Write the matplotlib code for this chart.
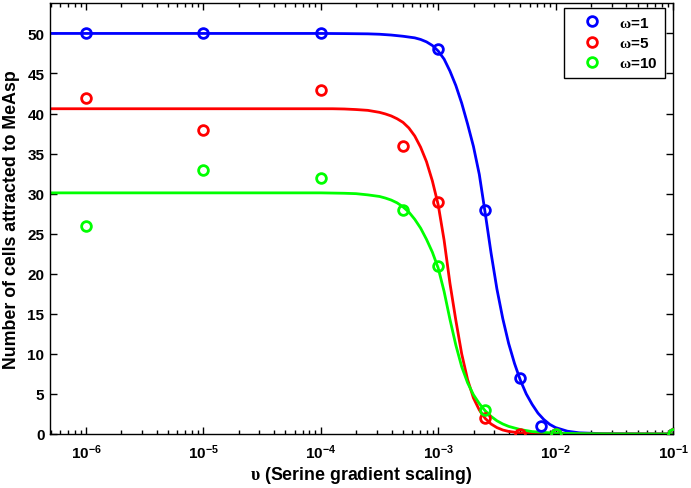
import numpy as np
import matplotlib
matplotlib.use("Agg")
import matplotlib.pyplot as plt

plt.rcParams["font.family"] = ["Liberation Sans", "DejaVu Sans"]
plt.rcParams["font.weight"] = "bold"
plt.rcParams["font.size"] = 11
plt.rcParams["mathtext.fontset"] = "custom"
plt.rcParams["mathtext.rm"] = "Liberation Sans:bold"
plt.rcParams["mathtext.bf"] = "Liberation Sans:bold"
plt.rcParams["mathtext.it"] = "Liberation Serif"

# measured points
blue_x = [1e-6, 1e-5, 1e-4, 1e-3, 2.5e-3, 5e-3, 7.5e-3, 1e-2, 1e-1]
blue_y = [50, 50, 50, 48, 28, 7, 1, 0, 0]
red_x = [1e-6, 1e-5, 1e-4, 5e-4, 1e-3, 2.5e-3, 5e-3, 1e-2, 1e-1]
red_y = [42, 38, 43, 36, 29, 2, 0, 0, 0]
green_x = [1e-6, 1e-5, 1e-4, 5e-4, 1e-3, 2.5e-3, 1e-2, 1e-1]
green_y = [26, 33, 32, 28, 21, 3, 0, 0]

# fitted curves (log10 of x, y)
blue_fit_logx = [-6.4, -4.0, -3.8, -3.6, -3.5, -3.4, -3.3, -3.2, -3.15, -3.1,
                 -3.05, -3.0, -2.95, -2.9, -2.85, -2.8, -2.75, -2.7, -2.65, -2.6,
                 -2.55, -2.5, -2.45, -2.4, -2.35, -2.3, -2.25, -2.2, -2.15, -2.1,
                 -2.05, -2.0, -1.9, -1.8, -1.6, -1.3, -1.0]
blue_fit_y = [50.0, 50.0, 49.98, 49.95, 49.9, 49.8, 49.65, 49.45, 49.25, 48.95,
              48.5, 47.8, 46.8, 45.3, 43.5, 41.3, 38.7, 35.9, 32.4, 27.6,
              22.6, 18.1, 14.4, 11.3, 8.8, 6.7, 5.0, 3.7, 2.6, 1.8,
              1.2, 0.8, 0.35, 0.15, 0.04, 0.01, 0.0]
red_fit_logx = [-6.4, -3.9, -3.8, -3.7, -3.6, -3.5, -3.45, -3.4, -3.35, -3.3,
                -3.25, -3.2, -3.15, -3.1, -3.05, -3.0, -2.95, -2.9, -2.85, -2.8,
                -2.75, -2.7, -2.65, -2.6, -2.55, -2.5, -2.45, -2.4, -2.3, -2.2,
                -2.0, -1.0]
red_fit_y = [40.6, 40.6, 40.57, 40.5, 40.4, 40.15, 39.95, 39.7, 39.35, 38.9,
             38.2, 37.2, 35.8, 34.0, 31.6, 28.6, 24.2, 18.8, 14.2, 10.0,
             6.8, 4.5, 3.0, 1.95, 1.25, 0.8, 0.5, 0.32, 0.13, 0.05,
             0.01, 0.0]
green_fit_logx = [-6.4, -4.0, -3.8, -3.7, -3.6, -3.5, -3.45, -3.4, -3.35, -3.3,
                  -3.25, -3.2, -3.15, -3.1, -3.05, -3.0, -2.95, -2.9, -2.85, -2.8,
                  -2.75, -2.7, -2.65, -2.6, -2.55, -2.5, -2.45, -2.4, -2.3, -2.2,
                  -2.0, -1.8, -1.5, -1.0]
green_fit_y = [30.1, 30.1, 30.05, 30.0, 29.85, 29.65, 29.45, 29.2, 28.85, 28.35,
               27.7, 26.8, 25.7, 24.3, 22.7, 20.7, 17.8, 14.3, 11.1, 8.4,
               6.4, 4.9, 3.8, 2.9, 2.2, 1.65, 1.25, 0.95, 0.55, 0.3,
               0.1, 0.04, 0.01, 0.0]

labels = [r"$\omega$=1", r"$\omega$=5", r"$\omega$=10"]
xticks = [1e-6, 1e-5, 1e-4, 1e-3, 1e-2, 1e-1]
xticklabels = [r"$\mathrm{10^{-6}}$", r"$\mathrm{10^{-5}}$", r"$\mathrm{10^{-4}}$",
               r"$\mathrm{10^{-3}}$", r"$\mathrm{10^{-2}}$", r"$\mathrm{10^{-1}}$"]
yticks = [0, 5, 10, 15, 20, 25, 30, 35, 40, 45, 50]

fig = plt.figure(figsize=(6.91, 4.89), dpi=100)
ax = fig.add_axes([50 / 691, 1 - 435 / 489, 623 / 691, 431 / 489])

colors = [(0, 0, 1), (1, 0, 0), (0, 1, 0)]
pts = [(blue_x, blue_y), (red_x, red_y), (green_x, green_y)]
fits = [(blue_fit_logx, blue_fit_y), (red_fit_logx, red_fit_y), (green_fit_logx, green_fit_y)]

for (px, py), c, lab in zip(pts, colors, labels):
    ax.plot(px, py, "o", mfc="none", mec=c, mew=2, ms=7, label=lab, zorder=3)
for (fx, fy), c in zip(fits, colors):
    ax.plot(10 ** np.array(fx), fy, "-", color=c, lw=2.0, zorder=2)

ax.set_xscale("log")
ax.set_xlim(4.93e-7, 1e-1)
ax.set_ylim(0, 53.8)
ax.set_xticks(xticks)
ax.set_xticklabels(xticklabels)
ax.set_yticks(yticks)
ax.tick_params(which="both", direction="in", top=True, right=True, width=1)
ax.tick_params(which="major", length=5, pad=4)
ax.tick_params(axis="x", which="major", pad=6)
ax.tick_params(which="minor", length=3)
for s in ax.spines.values():
    s.set_linewidth(1.0)

ax.set_xlabel(r"$\upsilon$ (Serine gradient scaling)", fontweight="bold",
              fontsize=12.8, labelpad=2)
ax.set_ylabel("Number of cells attracted to MeAsp", fontweight="bold",
              fontsize=12.8, labelpad=5)

leg = ax.legend(loc="upper right", bbox_to_anchor=(665 / 691, 1 - 9 / 489),
                bbox_transform=fig.transFigure, borderaxespad=0, fancybox=False,
                edgecolor="black", framealpha=1, handlelength=2.7, handletextpad=0.4,
                borderpad=0.5, labelspacing=0.42, fontsize=11)
leg.get_frame().set_linewidth(1.0)

fig.savefig("out.png", dpi=100)
